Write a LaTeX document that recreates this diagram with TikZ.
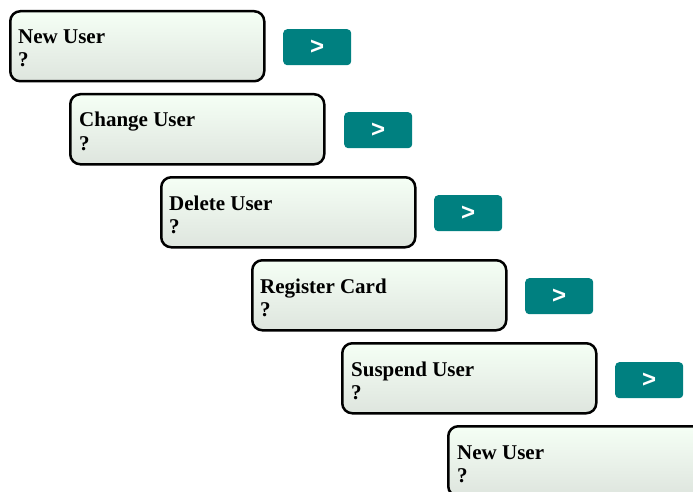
\documentclass[tikz,border=0pt]{standalone}
\usepackage{fontspec}
\setmainfont{Liberation Serif}
\setsansfont{Liberation Sans}
\definecolor{boxtop}{HTML}{F5FFF5}
\definecolor{boxbot}{HTML}{DEE5DE}
\definecolor{btnteal}{HTML}{008080}
\tikzset{
    usecase/.style={draw=black, line width=2.5pt, rounded corners=10pt,
        top color=boxtop, bottom color=boxbot, minimum width=254pt,
        minimum height=70pt, anchor=north west, inner sep=0pt},
    title/.style={anchor=base west, inner sep=0pt,
        font=\bfseries\fontsize{21}{23}\selectfont},
    nextbtn/.style={fill=btnteal, rounded corners=4pt, minimum width=68pt,
        minimum height=36pt, anchor=north west, inner sep=0pt, text=white,
        font=\sffamily\bfseries\fontsize{24}{24}\selectfont}
}
\begin{document}
\begin{tikzpicture}[x=1pt,y=-1pt]
        \useasboundingbox (0,0) rectangle (693,492);
        \clip (0,0) rectangle (693,492);
        % use cases, one step down and to the right each
        \node[usecase] (newuser) at (9,10) {};
        \node[title] (newusert) at (18,44) {New User};
        \node[title] (newuserq) at (18,67) {?};
        \node[usecase] (changeuser) at (69,93) {};
        \node[title] (changeusert) at (79,127) {Change User};
        \node[title] (changeuserq) at (79,150) {?};
        \node[usecase] (deleteuser) at (160,176) {};
        \node[title] (deleteusert) at (169,210) {Delete User};
        \node[title] (deleteuserq) at (169,233) {?};
        \node[usecase] (regcard) at (251,259) {};
        \node[title] (regcardt) at (260,293) {Register Card};
        \node[title] (regcardq) at (260,316) {?};
        \node[usecase] (suspuser) at (341,342) {};
        \node[title] (suspusert) at (351,376) {Suspend User};
        \node[title] (suspuserq) at (351,399) {?};
        \node[usecase] (newuserb) at (447,425) {};
        \node[title] (newuserbt) at (457,459) {New User};
        \node[title] (newuserbq) at (457,482) {?};
        % next buttons
        \node[nextbtn] (next1) at (283,29) {>};
        \node[nextbtn] (next2) at (344,112) {>};
        \node[nextbtn] (next3) at (434,195) {>};
        \node[nextbtn] (next4) at (525,278) {>};
        \node[nextbtn] (next5) at (615,362) {>};
    \end{tikzpicture}
\end{document}
